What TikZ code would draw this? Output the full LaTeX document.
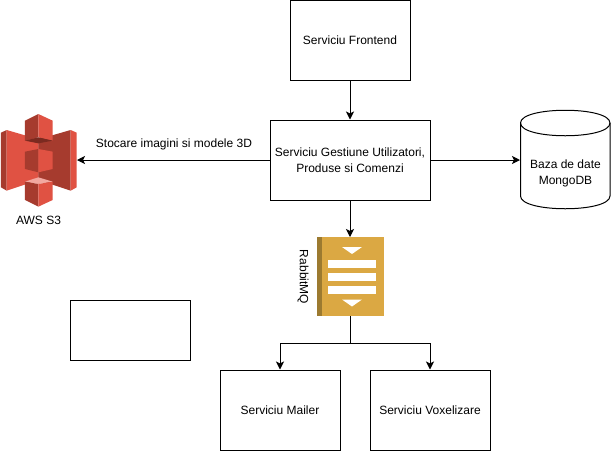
\documentclass[tikz,border=0pt]{standalone}
\usepackage{fontspec}
\setmainfont{Liberation Sans}
\usetikzlibrary{arrows.meta}
\definecolor{sLight}{HTML}{E05243}
\definecolor{sDark}{HTML}{A63B2E}
\definecolor{sUnder}{HTML}{7B2A20}
\definecolor{sTop}{HTML}{F2A8A0}
\definecolor{qBody}{HTML}{DBA843}
\definecolor{qEdge}{HTML}{9C7A30}
\tikzset{
  box/.style={draw=black,fill=white,line width=1pt,minimum width=120pt,minimum height=80pt,inner sep=0pt,align=center,font=\fontsize{12}{16}\selectfont},
  lbl/.style={inner sep=0pt,align=center,font=\fontsize{12}{16}\selectfont},
  link/.style={draw=black,line width=1pt,-{Stealth[length=8pt,width=8pt,inset=2pt]}}
}
\begin{document}
\begin{tikzpicture}[x=1pt,y=-1pt]
\useasboundingbox (0,0) rectangle (611,451);
\fill[white] (0,0) rectangle (611,451);
% S3 icon
\begin{scope}[x=0.3333pt,y=-0.3333pt,yshift=-100pt]
\fill[sDark] (3,98)--(20,90)--(20,272)--(3,262)--cycle;
\fill[sLight] (20,90)--(116,118)--(116,240)--(20,272)--cycle;
\fill[sDark] (212,90)--(115,118)--(115,240)--(212,272)--cycle;
\fill[sLight] (212,90)--(230,98)--(230,262)--(212,272)--cycle;
\fill[sDark] (75,155)--(115,147)--(115,217)--(75,207)--cycle;
\fill[sLight] (115,147)--(158,155)--(158,207)--(115,217)--cycle;
\fill[sDark] (75,62)--(115,42)--(115,112)--(75,122)--cycle;
\fill[sLight] (115,42)--(158,62)--(158,122)--(115,112)--cycle;
\fill[sUnder] (75,122)--(115,112)--(158,122)--(115,130)--cycle;
\fill[sTop] (75,245)--(115,232)--(158,245)--(115,252)--cycle;
\fill[sDark] (75,245)--(115,252)--(115,320)--(75,300)--cycle;
\fill[sLight] (115,252)--(158,245)--(158,300)--(115,320)--cycle;
\end{scope}
\coordinate (s3) at (77,160);
\node[lbl] (s3label) at (38.5,220) {AWS S3};
% boxes
\node[box] (front) at (350,40) {Serviciu Frontend};
\node[box,minimum width=160pt] (gest) at (350,160) {Serviciu Gestiune Utilizatori,\\Produse si Comenzi};
\node[box] (mailer) at (280,410) {Serviciu Mailer};
\node[box] (voxel) at (430,410) {Serviciu Voxelizare};
\node[box,minimum height=60pt] (empty) at (130,330) {};
% cylinder
\draw[fill=white,line width=1pt] (520.5,123) .. controls (520.5,106) and (610,106) .. (610,123) -- (610,196)
  .. controls (610,213) and (520.5,213) .. (520.5,196) -- cycle;
\draw[line width=1pt] (520.5,123) .. controls (520.5,140) and (610,140) .. (610,123);
\coordinate (db) at (520,160);
\node[lbl] (dblabel) at (565.5,173) {Baza de date\\MongoDB};
% queue
\fill[qBody] (317,237) rectangle (384,316);
\fill[qEdge] (317,237) rectangle (322,316);
\fill[white] (328,259.5) rectangle (376,267.5);
\fill[white] (328,272.5) rectangle (376,280.5);
\fill[white] (328,286) rectangle (376,294);
\fill[white] (342,247) -- (362,247) -- (352,254) -- cycle;
\fill[white] (342,299.5) -- (362,299.5) -- (352,306.5) -- cycle;
\coordinate (qtop) at (350,237);
\coordinate (qbot) at (350,316);
\coordinate (split) at (350,343);
\node[lbl,rotate=-90] (qlabel) at (303,277) {RabbitMQ};
\node[lbl] (storelabel) at (174,144) {Stocare imagini si modele 3D};
% connectors
\draw[link] (front) -- (gest);
\draw[link] (gest) -- (qtop);
\draw[link] (gest.west) -- (s3);
\draw[link] (gest.east) -- (db);
\draw[line width=1pt] (qbot) -- (split);
\draw[link] (split) -| (mailer.north);
\draw[link] (split) -| (voxel.north);
\end{tikzpicture}
\end{document}
